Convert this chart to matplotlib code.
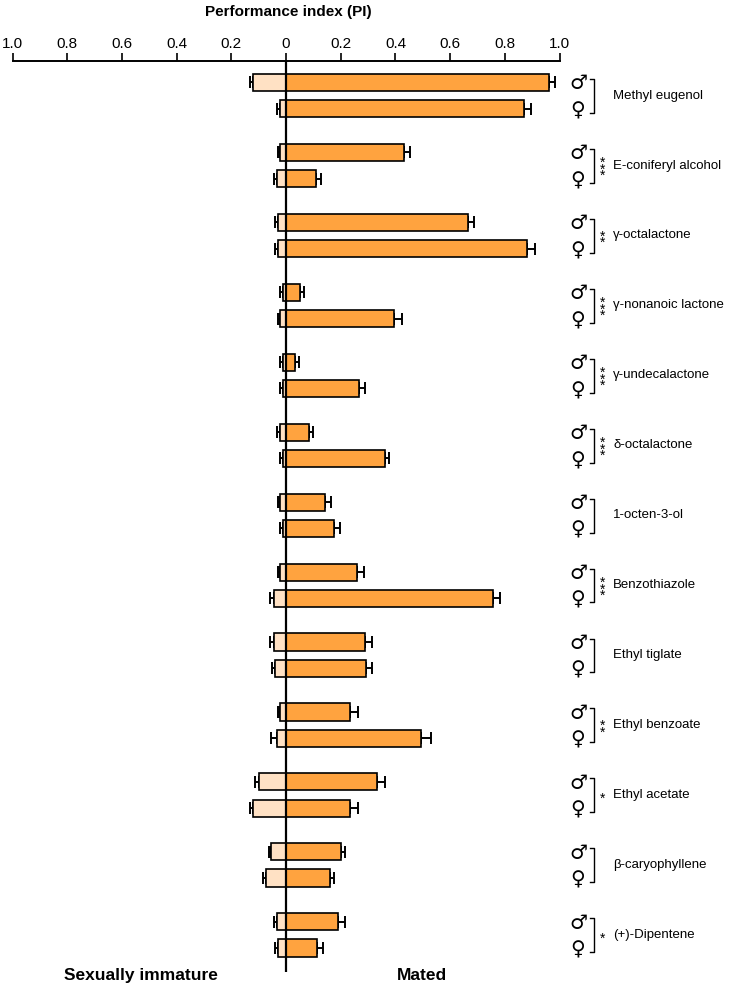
import numpy as np
import matplotlib
matplotlib.use('Agg')
import matplotlib.pyplot as plt

plt.rcParams['font.family'] = ['Liberation Sans', 'DejaVu Sans']

# Compounds (top to bottom) and significance marks
compounds = ['Methyl eugenol', 'E-coniferyl alcohol', 'γ-octalactone', 'γ-nonanoic lactone',
             'γ-undecalactone', 'δ-octalactone', '1-octen-3-ol', 'Benzothiazole',
             'Ethyl tiglate', 'Ethyl benzoate', 'Ethyl acetate', 'β-caryophyllene',
             '(+)-Dipentene']
stars = [0, 3, 2, 3, 3, 3, 0, 3, 0, 2, 1, 0, 1]

# Mated PI (male, female) and SEM
mated_m = [0.96, 0.43, 0.667, 0.05, 0.032, 0.083, 0.143, 0.261, 0.287, 0.232, 0.332, 0.199, 0.189]
mated_m_err = [0.023, 0.024, 0.02, 0.017, 0.014, 0.016, 0.021, 0.023, 0.028, 0.032, 0.029, 0.016, 0.026]
mated_f = [0.869, 0.11, 0.882, 0.395, 0.265, 0.36, 0.175, 0.755, 0.292, 0.493, 0.232, 0.159, 0.112]
mated_f_err = [0.026, 0.016, 0.027, 0.028, 0.024, 0.018, 0.023, 0.029, 0.021, 0.037, 0.03, 0.017, 0.022]

# Sexually immature PI (male, female) and SEM
imm_m = [0.12, 0.022, 0.028, 0.013, 0.013, 0.022, 0.022, 0.022, 0.046, 0.022, 0.1, 0.056, 0.035]
imm_m_err = [0.012, 0.009, 0.011, 0.009, 0.009, 0.012, 0.009, 0.009, 0.013, 0.009, 0.015, 0.006, 0.01]
imm_f = [0.023, 0.035, 0.028, 0.022, 0.013, 0.013, 0.013, 0.046, 0.041, 0.034, 0.12, 0.074, 0.028]
imm_f_err = [0.012, 0.01, 0.011, 0.009, 0.009, 0.009, 0.009, 0.013, 0.011, 0.02, 0.012, 0.01, 0.011]

ticks = [-1.0, -0.8, -0.6, -0.4, -0.2, 0, 0.2, 0.4, 0.6, 0.8, 1.0]
tick_labels = ['1.0', '0.8', '0.6', '0.4', '0.2', '0', '0.2', '0.4', '0.6', '0.8', '1.0']

mated_col = '#FFA33F'
imm_col = '#FFE1C4'

W, H = 737, 988
fig = plt.figure(figsize=(W / 100, H / 100), dpi=100)
ax = fig.add_axes([12.7 / W, 1 - 972 / H, (559.5 - 12.7) / W, (972 - 61) / H])

n = len(compounds)
gap = 0.375
y_m = np.arange(n) * 1.0
y_f = y_m + gap
bh = 0.245

bar_kw = dict(height=bh, edgecolor='black', linewidth=1.2, zorder=2)
err_kw = dict(fmt='none', ecolor='black', elinewidth=1.4, capsize=4.5, capthick=1.4, zorder=1)

# immature bars to the left
ax.barh(y_m, -np.array(imm_m), color=imm_col, **bar_kw)
ax.barh(y_f, -np.array(imm_f), color=imm_col, **bar_kw)
ax.errorbar(-np.array(imm_m), y_m, xerr=[imm_m_err, np.zeros(n)], **err_kw)
ax.errorbar(-np.array(imm_f), y_f, xerr=[imm_f_err, np.zeros(n)], **err_kw)

# mated bars to the right
ax.barh(y_m, mated_m, color=mated_col, **bar_kw)
ax.barh(y_f, mated_f, color=mated_col, **bar_kw)
ax.errorbar(mated_m, y_m, xerr=[np.zeros(n), mated_m_err], **err_kw)
ax.errorbar(mated_f, y_f, xerr=[np.zeros(n), mated_f_err], **err_kw)

ax.axvline(0, color='black', linewidth=1.6, zorder=3)

ax.set_xlim(-1, 1)
ax.set_ylim(y_f[-1] + 0.343, -0.307)

ax.xaxis.tick_top()
ax.set_xticks(ticks)
ax.set_xticklabels(tick_labels, fontsize=11)
ax.tick_params(axis='x', direction='out', length=6, width=1.2, pad=1.5)
ax.tick_params(axis='y', left=False, labelleft=False)
for s in ['left', 'right', 'bottom']:
    ax.spines[s].set_visible(False)
ax.spines['top'].set_linewidth(1.4)

# sex symbols, brackets, stars and compound names on the right
for i in range(n):
    ax.text(1.068, y_m[i] + 0.02, '♂', fontsize=14.5, family='DejaVu Sans',
            ha='center', va='center', clip_on=False)
    ax.text(1.068, y_f[i] + 0.03, '♀', fontsize=14.5, family='DejaVu Sans',
            ha='center', va='center', clip_on=False)
    top, bot = y_m[i] - 0.05, y_f[i] + 0.06
    ax.plot([1.110, 1.126, 1.126, 1.110], [top, top, bot, bot], color='black',
            linewidth=1.0, clip_on=False)
    mid = (y_m[i] + y_f[i]) / 2
    if stars[i]:
        ax.text(1.159, mid + 0.06, '\n'.join('*' * stars[i]), fontsize=10,
                linespacing=0.32, ha='center', va='center', clip_on=False)
    ax.text(1.196, mid, compounds[i], fontsize=9.5, ha='left', va='center',
            clip_on=False)

fig.text(288 / W, 1 - 12 / H, 'Performance index (PI)', fontsize=11, fontweight='bold',
         ha='center', va='center')
fig.text(141 / W, 1 - 975 / H, 'Sexually immature', fontsize=12.5, fontweight='bold',
         ha='center', va='center')
fig.text(422 / W, 1 - 975 / H, 'Mated', fontsize=12.5, fontweight='bold',
         ha='center', va='center')

fig.savefig('out.png', dpi=100)
